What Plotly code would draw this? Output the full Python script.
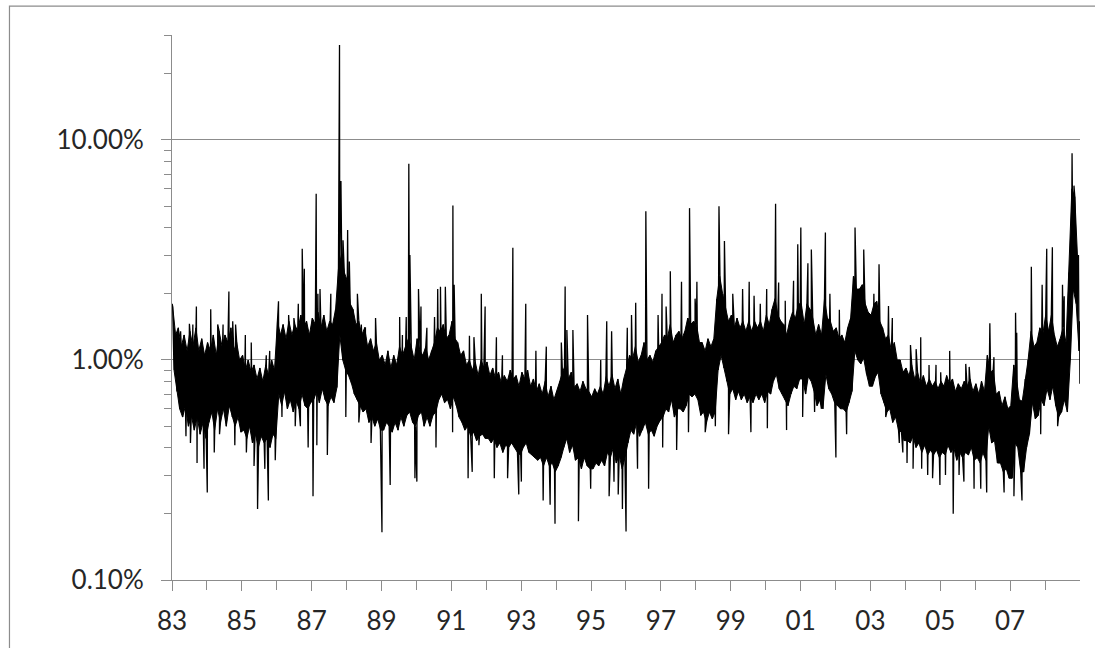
import numpy as np
import pandas as pd
import plotly.graph_objects as go

# Daily volatility band (percent), one "upper" and one "lower" reading per month, 1983-2008
core_hi = [
    1.75, 1.3, 1.4, 1.15, 1.3, 1.1, 1.35, 1.15, 1.4, 1.1, 1.25, 1.05,     # 1983
    1.2, 1.1, 1.3, 1.05, 1.35, 1.15, 1.3, 1.2, 1.4, 1.1, 1.2, 1.0,        # 1984
    1.05, 0.9, 1.0, 0.88, 0.95, 0.82, 0.92, 0.8, 0.95, 0.85, 1.0, 0.9,    # 1985
    1.5, 1.3, 1.45, 1.25, 1.5, 1.3, 1.45, 1.35, 1.6, 1.4, 1.5, 1.3,       # 1986
    1.55, 1.45, 1.65, 1.4, 1.6, 1.35, 1.5, 1.45, 1.7, 2.6, 3.0, 2.5,      # 1987
    2.3, 1.8, 1.7, 1.45, 1.5, 1.3, 1.4, 1.15, 1.25, 1.1, 1.2, 1.0,        # 1988
    1.05, 0.95, 1.1, 0.92, 1.05, 0.95, 1.15, 1.05, 1.15, 1.25, 1.15, 1.0, # 1989
    1.25, 1.1, 1.05, 1.15, 1.0, 1.1, 1.2, 1.4, 1.35, 1.45, 1.25, 1.3,     # 1990
    1.5, 1.25, 1.2, 1.05, 1.1, 0.95, 1.0, 0.9, 0.98, 0.85, 1.0, 0.92,     # 1991
    0.98, 0.85, 0.92, 0.82, 0.88, 0.78, 0.85, 0.8, 0.9, 0.82, 0.85, 0.76, # 1992
    0.88, 0.82, 0.9, 0.76, 0.82, 0.72, 0.78, 0.7, 0.8, 0.68, 0.76, 0.66,  # 1993
    0.72, 0.8, 0.88, 0.95, 0.82, 0.88, 0.75, 0.78, 0.72, 0.8, 0.74, 0.72, # 1994
    0.68, 0.74, 0.7, 0.76, 0.7, 0.84, 0.76, 0.86, 0.74, 0.82, 0.7, 0.82,  # 1995
    0.92, 1.05, 1.0, 1.15, 0.98, 1.05, 1.2, 1.0, 1.05, 0.98, 1.1, 1.15,   # 1996
    1.2, 1.3, 1.25, 1.45, 1.2, 1.3, 1.35, 1.25, 1.35, 1.55, 1.45, 1.5,    # 1997
    1.45, 1.2, 1.2, 1.1, 1.25, 1.15, 1.25, 1.9, 2.4, 2.0, 1.7, 1.5,       # 1998
    1.6, 1.4, 1.55, 1.4, 1.5, 1.35, 1.5, 1.35, 1.5, 1.4, 1.5, 1.35,       # 1999
    1.6, 1.45, 1.7, 1.9, 1.6, 1.5, 1.45, 1.3, 1.5, 1.65, 1.55, 1.8,       # 2000
    1.8, 1.45, 1.8, 1.7, 1.55, 1.3, 1.45, 1.3, 1.9, 1.55, 1.5, 1.35,      # 2001
    1.4, 1.25, 1.3, 1.2, 1.4, 1.55, 2.4, 2.1, 2.1, 2.2, 1.8, 1.65,        # 2002
    1.6, 1.8, 1.85, 1.5, 1.4, 1.25, 1.3, 1.1, 1.2, 1.0, 1.0, 0.88,        # 2003
    0.92, 0.85, 0.95, 0.82, 0.88, 0.78, 0.85, 0.76, 0.82, 0.76, 0.8, 0.74,  # 2004
    0.8, 0.76, 0.85, 0.78, 0.82, 0.72, 0.78, 0.74, 0.8, 0.76, 0.82, 0.72,   # 2005
    0.78, 0.7, 0.8, 0.72, 1.05, 0.88, 0.9, 0.7, 0.72, 0.62, 0.68, 0.6,      # 2006
    0.62, 0.95, 0.82, 0.66, 0.65, 0.82, 1.0, 1.35, 1.15, 1.2, 1.4, 1.3,     # 2007
    1.6, 1.35, 1.6, 1.3, 1.15, 1.25, 1.4, 1.2, 2.5, 6.0, 5.5, 2.8,          # 2008
]
core_lo = [
    0.9, 0.72, 0.6, 0.55, 0.62, 0.5, 0.56, 0.48, 0.55, 0.46, 0.52, 0.44,    # 1983
    0.52, 0.58, 0.48, 0.6, 0.52, 0.6, 0.5, 0.62, 0.55, 0.5, 0.55, 0.47,     # 1984
    0.48, 0.44, 0.5, 0.42, 0.46, 0.4, 0.45, 0.42, 0.44, 0.4, 0.46, 0.44,    # 1985
    0.7, 0.62, 0.72, 0.6, 0.66, 0.58, 0.65, 0.6, 0.7, 0.62, 0.6, 0.64,      # 1986
    0.66, 0.72, 0.64, 0.74, 0.66, 0.62, 0.68, 0.64, 0.75, 1.3, 1.0, 0.9,    # 1987
    0.85, 0.78, 0.7, 0.66, 0.62, 0.58, 0.6, 0.52, 0.55, 0.5, 0.54, 0.48,    # 1988
    0.48, 0.52, 0.5, 0.47, 0.52, 0.48, 0.55, 0.5, 0.56, 0.58, 0.52, 0.5,    # 1989
    0.56, 0.58, 0.5, 0.55, 0.5, 0.56, 0.58, 0.66, 0.7, 0.64, 0.66, 0.6,     # 1990
    0.68, 0.62, 0.55, 0.52, 0.48, 0.5, 0.45, 0.47, 0.43, 0.45, 0.46, 0.44,  # 1991
    0.44, 0.42, 0.44, 0.4, 0.42, 0.38, 0.41, 0.4, 0.42, 0.4, 0.38, 0.37,    # 1992
    0.4, 0.42, 0.38, 0.37, 0.36, 0.35, 0.36, 0.33, 0.36, 0.33, 0.34, 0.31,  # 1993
    0.33, 0.36, 0.4, 0.44, 0.38, 0.41, 0.35, 0.36, 0.32, 0.36, 0.33, 0.32,  # 1994
    0.32, 0.34, 0.33, 0.35, 0.33, 0.38, 0.36, 0.4, 0.34, 0.37, 0.32, 0.36,  # 1995
    0.42, 0.48, 0.46, 0.52, 0.45, 0.48, 0.52, 0.46, 0.48, 0.45, 0.5, 0.53,  # 1996
    0.55, 0.6, 0.58, 0.66, 0.55, 0.6, 0.6, 0.58, 0.62, 0.7, 0.68, 0.7,      # 1997
    0.66, 0.56, 0.58, 0.52, 0.58, 0.54, 0.58, 0.9, 1.05, 0.92, 0.8, 0.7,    # 1998
    0.74, 0.66, 0.72, 0.66, 0.7, 0.64, 0.68, 0.64, 0.7, 0.66, 0.7, 0.64,    # 1999
    0.72, 0.7, 0.8, 0.86, 0.74, 0.7, 0.66, 0.62, 0.7, 0.76, 0.74, 0.82,     # 2000
    0.82, 0.7, 0.84, 0.8, 0.72, 0.62, 0.66, 0.6, 0.86, 0.74, 0.7, 0.64,     # 2001
    0.62, 0.6, 0.6, 0.58, 0.64, 0.72, 1.1, 1.0, 0.96, 1.02, 0.86, 0.76,     # 2002
    0.76, 0.84, 0.88, 0.7, 0.64, 0.58, 0.6, 0.52, 0.55, 0.48, 0.47, 0.43,   # 2003
    0.43, 0.42, 0.45, 0.4, 0.42, 0.38, 0.41, 0.37, 0.39, 0.37, 0.39, 0.36,  # 2004
    0.38, 0.37, 0.41, 0.38, 0.4, 0.35, 0.38, 0.36, 0.38, 0.37, 0.4, 0.35,   # 2005
    0.36, 0.34, 0.38, 0.35, 0.5, 0.42, 0.43, 0.34, 0.34, 0.31, 0.32, 0.29,  # 2006
    0.29, 0.42, 0.4, 0.31, 0.31, 0.4, 0.46, 0.64, 0.54, 0.56, 0.66, 0.62,   # 2007
    0.74, 0.66, 0.76, 0.62, 0.55, 0.58, 0.66, 0.58, 1.0, 2.1, 1.8, 1.1,     # 2008
]

# Single-day extremes (percent)
spike_dates = [
    "1983-01-03", "1983-04-01", "1983-05-27", "1983-07-02", "1983-07-13", "1983-08-07",
    "1983-09-13", "1983-09-20", "1983-12-02",
    "1984-01-05", "1984-02-10", "1984-03-18", "1984-04-23", "1984-05-12", "1984-06-18",
    "1984-08-18", "1984-09-27", "1984-10-19", "1984-10-27",
    "1985-02-06", "1985-02-17", "1985-04-09", "1985-05-08", "1985-06-14", "1985-08-29",
    "1985-09-13", "1985-10-05", "1985-10-19", "1985-12-16",
    "1986-01-19", "1986-02-24", "1986-05-05", "1986-06-29", "1986-07-13", "1986-08-14",
    "1986-09-05", "1986-09-24", "1986-10-16", "1986-11-25",
    "1987-01-15", "1987-02-17", "1987-02-24", "1987-03-07", "1987-03-29", "1987-06-14",
    "1987-07-20", "1987-10-19", "1987-10-23", "1987-10-27", "1987-11-03", "1987-11-25",
    "1987-12-24",
    "1988-01-12", "1988-01-30", "1988-04-23", "1988-05-08", "1988-06-03", "1988-07-16",
    "1988-09-13", "1988-10-30",
    "1989-01-05", "1989-04-01", "1989-07-09", "1989-08-07", "1989-09-16", "1989-10-13",
    "1989-10-24", "1989-12-16",
    "1990-01-05", "1990-01-22", "1990-02-17", "1990-04-20", "1990-07-09", "1990-07-24",
    "1990-08-11", "1990-09-09", "1990-10-30",
    "1991-01-14", "1991-01-17", "1991-01-30", "1991-06-25", "1991-07-09", "1991-08-07",
    "1991-08-25", "1991-10-16", "1991-11-10", "1991-12-20",
    "1992-03-25", "1992-04-16", "1992-06-18", "1992-08-11", "1992-10-05", "1992-12-06",
    "1993-01-02", "1993-02-17", "1993-06-03", "1993-08-18", "1993-09-20", "1993-10-30",
    "1993-12-20",
    "1994-02-24", "1994-04-05", "1994-04-23", "1994-06-25", "1994-08-22", "1994-11-25",
    "1994-12-28",
    "1995-04-12", "1995-06-14", "1995-07-09", "1995-08-04", "1995-08-29", "1995-10-12",
    "1995-11-25",
    "1996-01-02", "1996-01-15", "1996-02-28", "1996-04-12", "1996-05-01", "1996-07-27",
    "1996-08-25", "1996-12-02",
    "1997-01-12", "1997-01-19", "1997-02-24", "1997-04-09", "1997-06-14", "1997-08-04",
    "1997-10-16", "1997-10-27", "1997-12-24",
    "1998-01-12", "1998-04-09", "1998-07-24", "1998-08-31", "1998-10-27", "1998-12-09",
    "1999-01-22", "1999-05-05", "1999-07-13", "1999-07-31", "1999-09-02", "1999-11-06",
    "2000-01-12", "2000-01-19", "2000-04-14", "2000-05-16", "2000-07-24", "2000-08-07",
    "2000-10-19", "2000-12-02",
    "2001-01-03", "2001-01-22", "2001-03-18", "2001-04-23", "2001-05-27", "2001-08-07",
    "2001-09-17", "2001-11-03",
    "2002-01-05", "2002-02-10", "2002-04-27", "2002-07-24", "2002-10-23",
    "2003-02-06", "2003-04-01", "2003-06-10", "2003-07-09", "2003-08-18", "2003-10-30",
    "2003-12-06",
    "2004-01-19", "2004-02-24", "2004-03-22", "2004-04-23", "2004-06-10", "2004-06-20",
    "2004-08-22", "2004-09-05", "2004-10-12", "2004-11-17", "2004-12-28",
    "2005-01-05", "2005-02-24", "2005-04-09", "2005-05-16", "2005-07-16", "2005-09-05",
    "2005-09-24", "2005-10-30", "2005-12-20",
    "2006-02-28", "2006-05-01", "2006-05-08", "2006-06-03", "2006-07-16", "2006-10-30",
    "2007-02-10", "2007-02-27", "2007-03-11", "2007-05-05", "2007-08-11", "2007-11-17",
    "2007-12-02",
    "2008-01-19", "2008-03-18", "2008-05-12", "2008-07-02", "2008-07-20", "2008-10-10",
    "2008-10-30", "2008-12-16", "2008-12-28", "2008-12-31",
]
spike_vals = [
    1.8, 1.35, 0.45, 1.46, 0.42, 1.45,
    1.75, 0.34, 0.32,
    0.25, 1.7, 0.38, 1.45, 0.46, 1.45,
    2.05, 1.5, 0.41, 1.45,
    1.3, 0.38, 1.2, 0.33, 0.21, 0.32,
    1.05, 0.23, 1.1, 0.35,
    1.85, 0.55, 1.6, 1.55, 0.5, 1.8,
    0.5, 3.2, 2.6, 0.4,
    0.24, 5.7, 0.41, 2.0, 2.1, 0.37,
    2.0, 27.0, 8.0, 5.5, 6.5, 3.5,
    0.55,
    3.9, 2.8, 2.0, 0.52, 1.45, 1.4,
    0.42, 1.55,
    0.165, 0.27, 1.57, 1.3, 1.57, 7.8,
    3.0, 0.29,
    0.28, 2.1, 1.75, 1.4, 1.57, 0.4,
    2.1, 2.15, 2.15,
    0.47, 5.04, 2.2, 0.29, 1.29, 0.31,
    1.27, 0.41, 2.0, 1.75,
    0.29, 1.27, 1.05, 0.29, 3.24, 0.245,
    0.28, 1.8, 1.1, 0.23, 1.15, 0.22,
    0.18,
    1.2, 2.16, 1.37, 1.37, 0.185, 1.6,
    0.26,
    1.0, 1.5, 0.24, 1.35, 0.28, 0.245,
    0.21,
    0.166, 1.4, 1.6, 1.82, 0.32, 4.74,
    0.26, 1.6,
    2.0, 0.4, 1.75, 2.53, 0.39, 2.27,
    0.47, 4.9, 1.9,
    2.27, 0.47, 0.5, 5.0, 3.47, 0.46,
    2.0, 2.1, 2.27, 0.47, 1.96, 1.8,
    2.1, 0.49, 5.13, 2.25, 1.86, 0.48,
    2.29, 3.36,
    4.0, 0.55, 2.75, 3.18, 0.58, 0.6,
    3.8, 2.0,
    0.36, 1.69, 0.46, 4.0, 3.18,
    2.0, 2.72, 0.55, 1.76, 1.55, 0.42,
    0.38,
    0.34, 1.17, 0.32, 1.12, 1.27, 0.32,
    0.3, 0.95, 0.29, 0.95, 0.27,
    0.88, 0.3, 1.1, 0.2, 0.3, 0.28,
    0.96, 0.93, 0.26,
    0.26, 0.25, 1.05, 1.47, 1.03, 0.25,
    0.24, 1.64, 1.33, 0.23, 2.65, 0.46,
    2.2,
    3.2, 3.25, 0.5, 2.2, 1.95, 8.7,
    6.2, 3.0, 1.5, 0.78,
]

# Axis labels
year_ticks = [str(y) for y in range(1983, 2009, 2)]
year_labels = ["83", "85", "87", "89", "91", "93", "95", "97", "99", "01", "03", "05", "07"]
minor_years = [str(y) for y in range(1984, 2009, 2)]
pct_ticks = [0.1, 1, 10]
pct_labels = ["0.10%", "1.00%", "10.00%"]
pct_minor = [0.2, 0.3, 0.4, 0.5, 0.6, 0.7, 0.8, 0.9,
             2, 3, 4, 5, 6, 7, 8, 9, 20, 30]

# Merge the monthly band readings with the single-day extremes into one dated series
months = pd.date_range("1983-01-01", "2008-12-01", freq="MS")
hi_dates = months + pd.Timedelta(days=7)
lo_dates = months + pd.Timedelta(days=21)
core = pd.DataFrame({
    "date": list(hi_dates) + list(lo_dates),
    "vol": core_hi + core_lo,
})
spikes = pd.DataFrame({"date": pd.to_datetime(spike_dates), "vol": spike_vals})
series = pd.concat([core, spikes], ignore_index=True).sort_values("date", kind="stable")

AXIS = "#8c8c8c"
TEXT = "#262626"
FONT = dict(family="Lato, Carlito, Calibri, sans-serif", size=26, color=TEXT)
major_x = [f"{y}-01-01" for y in year_ticks]
minor_x = [f"{y}-01-01" for y in minor_years]

fig = go.Figure()
# solid core of the daily band: lower readings, then upper readings filled down to them
fig.add_trace(go.Scatter(
    x=lo_dates, y=core_lo, mode="lines",
    line=dict(color="black", width=1), hoverinfo="skip", showlegend=False,
))
fig.add_trace(go.Scatter(
    x=hi_dates, y=core_hi, mode="lines", fill="tonexty", fillcolor="black",
    line=dict(color="black", width=1), hoverinfo="skip", showlegend=False,
))
# the daily series itself
fig.add_trace(go.Scatter(
    x=series["date"], y=series["vol"], mode="lines",
    line=dict(color="black", width=1.3),
    hoverinfo="skip", showlegend=False,
))

fig.update_layout(
    width=1095, height=648,
    margin=dict(l=172, r=15, t=35, b=65),
    paper_bgcolor="white", plot_bgcolor="white",
    font=FONT, showlegend=False,
    xaxis=dict(
        type="date", range=["1983-01-01", "2009-01-01"],
        tickmode="array", tickvals=major_x, ticktext=year_labels,
        ticks="outside", ticklen=10, tickwidth=1, tickcolor=AXIS,
        showline=True, linecolor=AXIS, linewidth=1,
        showgrid=False, zeroline=False, ticklabelstandoff=8,
        minor=dict(tickmode="array", tickvals=minor_x, ticks="outside",
                   ticklen=9, tickwidth=1, tickcolor=AXIS, showgrid=False),
    ),
    xaxis2=dict(
        type="date", range=["1983-01-01", "2009-01-01"], overlaying="x",
        anchor="y", side="bottom",
        tickmode="array", tickvals=major_x, ticks="inside", ticklen=10,
        tickwidth=1, tickcolor=AXIS, showticklabels=False,
        showline=False, showgrid=False, zeroline=False,
    ),
    yaxis=dict(
        type="log", range=[-1, np.log10(30)],
        tickmode="array", tickvals=pct_ticks, ticktext=pct_labels,
        ticks="outside", ticklen=10, tickwidth=1, tickcolor=AXIS,
        showline=True, linecolor=AXIS, linewidth=1,
        showgrid=True, gridcolor=AXIS, gridwidth=1, zeroline=False,
        ticklabelstandoff=12,
        minor=dict(tickmode="array", tickvals=pct_minor, ticks="outside",
                   ticklen=7, tickwidth=1, tickcolor=AXIS, showgrid=False),
    ),
    shapes=[dict(
        type="rect", xref="paper", yref="paper",
        x0=-0.179, x1=1.2, y0=-0.3, y1=1.0529,
        line=dict(color=AXIS, width=1.2), fillcolor="rgba(0,0,0,0)", layer="below",
    )],
)

fig.write_html("out.html")
